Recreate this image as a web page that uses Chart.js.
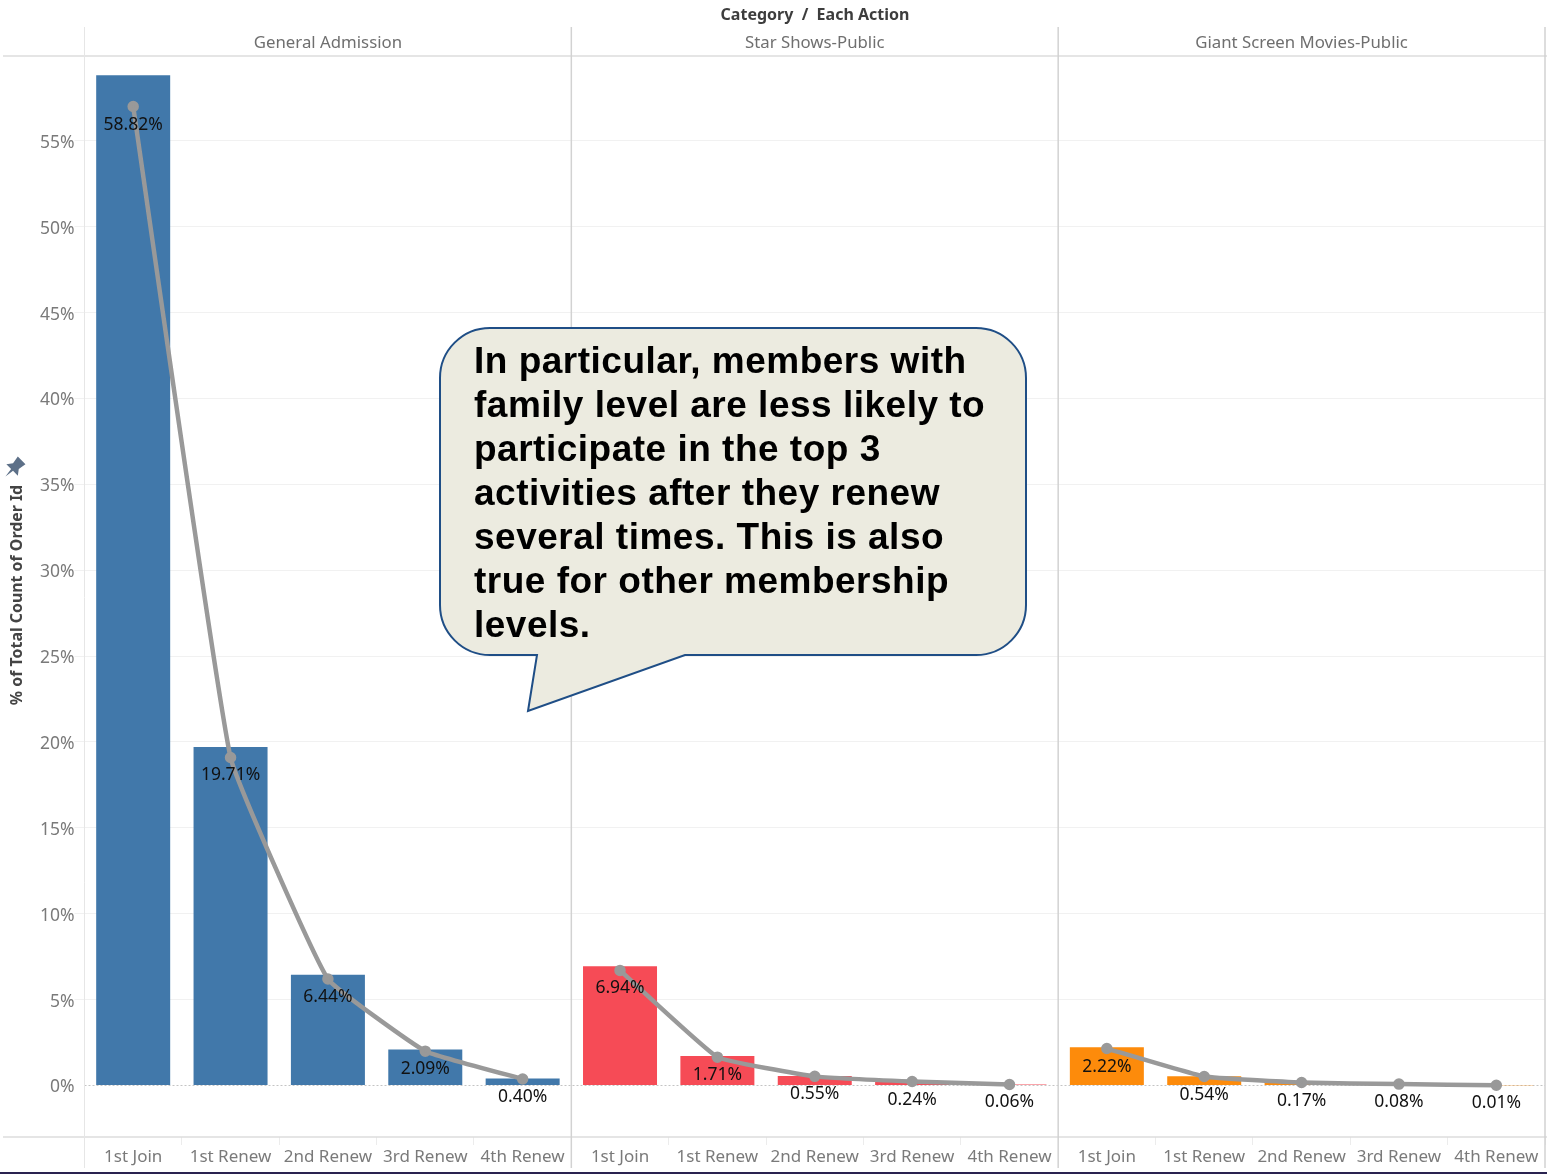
<!DOCTYPE html>
<html>
<head>
<meta charset="utf-8">
<title>Each Action by Category</title>
<script src="https://cdn.jsdelivr.net/npm/chart.js@4"></script>
<style>
  html, body { margin: 0; padding: 0; background: #fff; overflow: hidden; }
  #wrap { position: relative; width: 1547px; height: 1174px; }
</style>
</head>
<body>
<div id="wrap"><canvas id="chart" width="1547" height="1174"></canvas></div>
<script>
const actions = ["1st Join", "1st Renew", "2nd Renew", "3rd Renew", "4th Renew"];
const categories = ["General Admission", "Star Shows-Public", "Giant Screen Movies-Public"];
const yTicks = [0, 5, 10, 15, 20, 25, 30, 35, 40, 45, 50, 55];

// bar heights, as printed on the labels
const generalAdmission = [58.82, 19.71, 6.44, 2.09, 0.40];
const starShows = [6.94, 1.71, 0.55, 0.24, 0.06];
const giantScreen = [2.22, 0.54, 0.17, 0.08, 0.01];

// grey trend line laid over the bars
const generalTrend = [57.0, 19.1, 6.2, 2.0, 0.38];
const starTrend = [6.7, 1.65, 0.53, 0.23, 0.06];
const giantTrend = [2.15, 0.52, 0.17, 0.08, 0.01];

const panelColors = ["#4178aa", "#f64b56", "#fd8b0b"];
const calloutLines = [
  "In particular, members with",
  "family level are less likely to",
  "participate in the top 3",
  "activities after they renew",
  "several times. This is also",
  "true for other membership",
  "levels."
];

const FONT = '"Noto Sans", sans-serif';
const labels = categories.flatMap(() => actions);
const barValues = [...generalAdmission, ...starShows, ...giantScreen];
const trendValues = [...generalTrend, ...starTrend, ...giantTrend];

// one line per panel so the trend breaks between panels
function panelLine(values, panel) {
  const out = new Array(15).fill(null);
  values.forEach((v, i) => { out[panel * 5 + i] = v; });
  return out;
}

function lineDataset(values, panel) {
  return {
    type: "line",
    data: panelLine(values, panel),
    order: 1,
    borderColor: "#999999",
    backgroundColor: "#999999",
    borderWidth: 4.5,
    pointRadius: 3.5,
    pointHoverRadius: 3.5,
    tension: 0.1,
    spanGaps: false
  };
}

function bandEdge(x, i) {
  const band = x.width / labels.length;
  return x.left + band * i;
}

/* ---- Panel furniture, drawn under the bars ---- */
const panelFrame = {
  id: "panelFrame",
  beforeDatasetsDraw(chart) {
    const { ctx, scales: { x, y } } = chart;
    ctx.save();

    // dotted zero line
    ctx.strokeStyle = "#c4c4c4";
    ctx.lineWidth = 1;
    ctx.setLineDash([2, 2]);
    ctx.beginPath();
    ctx.moveTo(x.left, Math.round(y.getPixelForValue(0)) + 0.5);
    ctx.lineTo(x.right, Math.round(y.getPixelForValue(0)) + 0.5);
    ctx.stroke();
    ctx.setLineDash([]);

    // header and footer rules
    ctx.strokeStyle = "#dcdcdc";
    ctx.lineWidth = 1.5;
    [y.top + 1, y.bottom].forEach((py) => {
      ctx.beginPath();
      ctx.moveTo(3, py);
      ctx.lineTo(1547, py);
      ctx.stroke();
    });

    // panel separators run past the plot into header and footer
    for (let p = 0; p <= categories.length; p++) {
      const px = bandEdge(x, p * 5);
      ctx.strokeStyle = p === 0 ? "#e6e6e6" : "#d2d2d2";
      ctx.lineWidth = p === 0 ? 1 : 1.5;
      ctx.beginPath();
      ctx.moveTo(px, 27);
      ctx.lineTo(px, 1168);
      ctx.stroke();
    }

    // panel headers
    ctx.fillStyle = "#6f6f6f";
    ctx.font = "16.8px " + FONT;
    ctx.textAlign = "center";
    ctx.textBaseline = "middle";
    categories.forEach((name, p) => {
      ctx.fillText(name, (bandEdge(x, p * 5) + bandEdge(x, p * 5 + 5)) / 2, 43);
    });

    // field title
    ctx.fillStyle = "#3d3d3d";
    ctx.font = "bold 16px " + FONT;
    ctx.fillText("Category  /  Each Action", 815, 15);

    // axis title and pin
    ctx.save();
    ctx.translate(17, 595);
    ctx.rotate(-Math.PI / 2);
    ctx.fillStyle = "#444444";
    ctx.font = "bold 15.9px " + FONT;
    ctx.fillText("% of Total Count of Order Id", 0, 0);
    ctx.restore();
    drawPin(ctx, 14, 468);

    // window edge
    ctx.fillStyle = "#2a2350";
    ctx.fillRect(0, 1172, 1547, 2);
    ctx.restore();
  }
};

function drawPin(ctx, cx, cy) {
  ctx.save();
  ctx.translate(cx, cy);
  ctx.rotate(Math.PI / 4);
  ctx.scale(1.35, 1.35);
  ctx.fillStyle = "#5d7088";
  ctx.beginPath();
  ctx.moveTo(-4, -8);
  ctx.lineTo(4, -8);
  ctx.lineTo(3, -2);
  ctx.lineTo(6, 2);
  ctx.lineTo(1, 2);
  ctx.lineTo(0, 9);
  ctx.lineTo(-1, 2);
  ctx.lineTo(-6, 2);
  ctx.lineTo(-3, -2);
  ctx.closePath();
  ctx.fill();
  ctx.restore();
}

/* ---- Value labels, above the trend line ---- */
const valueLabels = {
  id: "valueLabels",
  afterDatasetsDraw(chart) {
    const { ctx, scales: { x, y } } = chart;
    ctx.save();
    ctx.fillStyle = "#111111";
    ctx.font = "17.5px " + FONT;
    ctx.textAlign = "center";
    ctx.textBaseline = "middle";
    barValues.forEach((v, i) => {
      ctx.fillText(v.toFixed(2) + "%", x.getPixelForValue(i), y.getPixelForValue(trendValues[i]) + 18);
    });
    ctx.restore();
  }
};

/* ---- Speech bubble on top of everything ---- */
const callout = {
  id: "callout",
  afterDraw(chart) {
    const ctx = chart.ctx;
    const l = 440, t = 328, r = 1026, b = 655, rad = 50;
    ctx.save();
    ctx.beginPath();
    ctx.moveTo(l + rad, t);
    ctx.lineTo(r - rad, t);
    ctx.arcTo(r, t, r, t + rad, rad);
    ctx.lineTo(r, b - rad);
    ctx.arcTo(r, b, r - rad, b, rad);
    ctx.lineTo(685, b);
    ctx.lineTo(528, 711);
    ctx.lineTo(537, b);
    ctx.lineTo(l + rad, b);
    ctx.arcTo(l, b, l, b - rad, rad);
    ctx.lineTo(l, t + rad);
    ctx.arcTo(l, t, l + rad, t, rad);
    ctx.closePath();
    ctx.fillStyle = "#ecebe0";
    ctx.fill();
    ctx.strokeStyle = "#1f4e86";
    ctx.lineWidth = 2;
    ctx.stroke();

    ctx.fillStyle = "#000000";
    ctx.font = 'bold 37px "Liberation Sans", sans-serif';
    ctx.letterSpacing = "0.5px";
    ctx.textAlign = "left";
    ctx.textBaseline = "middle";
    calloutLines.forEach((line, i) => {
      ctx.fillText(line, 474, 363 + i * 44);
    });
    ctx.restore();
  }
};

new Chart(document.getElementById("chart"), {
  data: {
    labels,
    datasets: [
      {
        type: "bar",
        data: barValues,
        order: 2,
        backgroundColor: (c) => panelColors[Math.floor(c.dataIndex / 5)],
        barPercentage: 0.76,
        categoryPercentage: 1
      },
      lineDataset(generalTrend, 0),
      lineDataset(starTrend, 1),
      lineDataset(giantTrend, 2)
    ]
  },
  options: {
    responsive: false,
    animation: false,
    layout: { autoPadding: false, padding: { top: 55, right: 2, bottom: 0, left: 0 } },
    plugins: { legend: { display: false }, tooltip: { enabled: false }, title: { display: false } },
    scales: {
      x: {
        offset: true,
        afterFit: (s) => { s.height = 37; s.paddingLeft = 0; s.paddingRight = 0; },
        border: { display: false },
        grid: {
          offset: true,
          drawOnChartArea: false,
          tickLength: 8,
          tickColor: (c) => (c.index % 5 === 0 ? "transparent" : "#ececec")
        },
        ticks: {
          color: "#7a7a7a",
          padding: 2,
          autoSkip: false,
          maxRotation: 0,
          font: { family: FONT, size: 17 }
        }
      },
      y: {
        min: -3,
        max: 60,
        afterFit: (s) => { s.width = 84.5; s.paddingTop = 0; s.paddingBottom = 0; },
        afterBuildTicks: (s) => { s.ticks = yTicks.map((value) => ({ value })); },
        border: { display: false },
        grid: {
          color: (c) => (c.tick && c.tick.value === 0 ? "transparent" : "#f1f1f1"),
          tickLength: 10,
          tickColor: (c) => (c.tick && c.tick.value === 0 ? "transparent" : "#f1f1f1")
        },
        ticks: {
          color: "#7a7a7a",
          padding: 0,
          labelOffset: 2,
          font: { family: FONT, size: 17.5 },
          callback: (v) => v + "%"
        }
      }
    }
  },
  plugins: [panelFrame, valueLabels, callout]
});
</script>
</body>
</html>
